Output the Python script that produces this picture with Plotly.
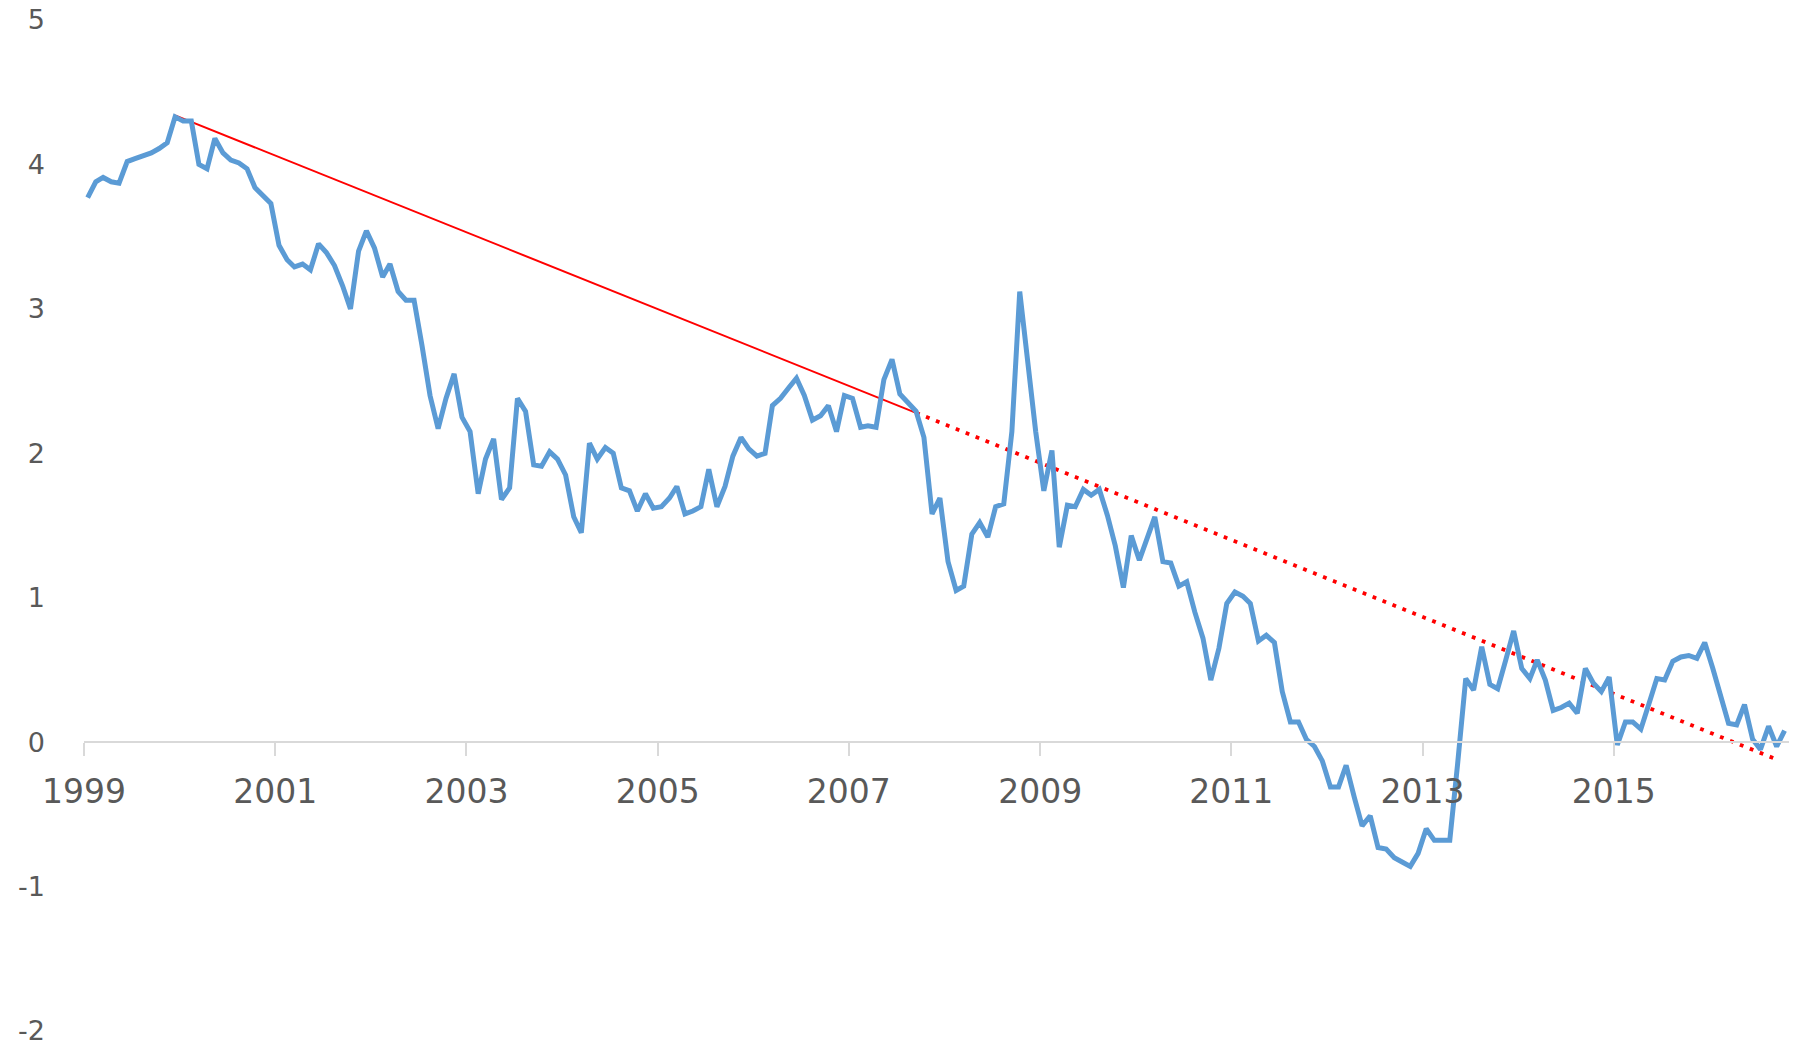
import pandas as pd
import plotly.graph_objects as go

# Monthly series, Jan 1999 .. Oct 2016
start_month = "1999-01-01"
values = [
    3.77, 3.88, 3.91, 3.88, 3.87, 4.02, 4.04, 4.06, 4.08, 4.11, 4.15, 4.33,   # 1999
    4.30, 4.30, 4.00, 3.97, 4.18, 4.08, 4.03, 4.01, 3.97, 3.84, 3.79, 3.73,   # 2000
    3.44, 3.34, 3.29, 3.31, 3.27, 3.45, 3.39, 3.30, 3.16, 3.00, 3.40, 3.54,   # 2001
    3.42, 3.22, 3.31, 3.12, 3.06, 3.06, 2.75, 2.40, 2.17, 2.38, 2.55, 2.25,   # 2002
    2.15, 1.72, 1.96, 2.10, 1.68, 1.76, 2.38, 2.29, 1.92, 1.91, 2.01, 1.96,   # 2003
    1.85, 1.56, 1.45, 2.07, 1.96, 2.04, 2.00, 1.76, 1.74, 1.60, 1.72, 1.62,   # 2004
    1.63, 1.69, 1.77, 1.58, 1.60, 1.63, 1.89, 1.63, 1.77, 1.98, 2.11, 2.03,   # 2005
    1.98, 2.00, 2.33, 2.38, 2.45, 2.52, 2.40, 2.23, 2.26, 2.33, 2.15, 2.40,   # 2006
    2.38, 2.18, 2.19, 2.18, 2.51, 2.65, 2.41, 2.35, 2.29, 2.11, 1.58, 1.69,   # 2007
    1.25, 1.05, 1.08, 1.44, 1.52, 1.42, 1.63, 1.65, 2.15, 3.12, 2.60, 2.15,   # 2008
    1.74, 2.02, 1.35, 1.64, 1.63, 1.75, 1.71, 1.75, 1.57, 1.36, 1.07, 1.43,   # 2009
    1.26, 1.43, 1.56, 1.25, 1.24, 1.08, 1.11, 0.90, 0.72, 0.43, 0.65, 0.96,   # 2010
    1.04, 1.01, 0.96, 0.70, 0.74, 0.69, 0.35, 0.14, 0.14, 0.02, -0.03, -0.13, # 2011
    -0.31, -0.31, -0.16, -0.38, -0.58, -0.51, -0.73, -0.74, -0.80, -0.83, -0.86, -0.77,  # 2012
    -0.60, -0.68, -0.68, -0.68, -0.15, 0.44, 0.36, 0.66, 0.40, 0.37, 0.57, 0.77,  # 2013
    0.51, 0.44, 0.57, 0.43, 0.22, 0.24, 0.27, 0.20, 0.51, 0.41, 0.35, 0.45,   # 2014
    -0.02, 0.14, 0.14, 0.09, 0.26, 0.44, 0.43, 0.56, 0.59, 0.60, 0.58, 0.69,  # 2015
    0.51, 0.30, 0.13, 0.12, 0.26, 0.02, -0.05, 0.11, -0.03, 0.08,             # 2016
]

# Trend line: solid part and dotted extension
trend_solid_months = ["1999-12-15", "2007-09-15"]
trend_solid_values = [4.34, 2.28]
trend_dotted_months = ["2007-09-15", "2016-09-15"]
trend_dotted_values = [2.28, -0.12]

x_tick_years = ["1999", "2001", "2003", "2005", "2007", "2009", "2011", "2013", "2015"]
y_tick_values = [-2, -1, 0, 1, 2, 3, 4, 5]
y_tick_labels = ["-2", "-1", "0", "1", "2", "3", "4", "5"]

dates = pd.date_range(start_month, periods=len(values), freq="MS") + pd.Timedelta(days=14)

FONT = "DejaVu Sans"
TXT = "#595959"

fig = go.Figure()
fig.add_trace(go.Scatter(x=trend_solid_months, y=trend_solid_values, mode="lines",
                         line=dict(color="#FF0000", width=2), hoverinfo="skip"))
fig.add_trace(go.Scatter(x=trend_dotted_months, y=trend_dotted_values, mode="lines",
                         line=dict(color="#FF0000", width=3.8, dash="3.8px,6.9px"), hoverinfo="skip"))
fig.add_trace(go.Scatter(x=dates, y=values, mode="lines",
                         line=dict(color="#5B9BD5", width=5)))

fig.update_layout(
    width=1799, height=1048,
    margin=dict(l=84, r=10, t=20, b=17, autoexpand=False),
    paper_bgcolor="white", plot_bgcolor="white",
    showlegend=False,
    font=dict(family=FONT, color=TXT, size=31),
    xaxis=dict(
        type="date",
        range=["1999-01-01", "2016-11-01"],
        tickvals=[f"{y}-01-01" for y in x_tick_years],
        ticktext=x_tick_years,
        showgrid=False, zeroline=False,
        showline=True, linecolor="#D9D9D9", linewidth=1.5,
        ticks="outside", ticklen=13, tickwidth=1.5, tickcolor="#D9D9D9",
        anchor="free", position=2 / 7,
        tickfont=dict(family=FONT, size=33, color=TXT),
        ticklabelstandoff=8,
    ),
    yaxis=dict(
        range=[-2, 5],
        tickvals=y_tick_values, ticktext=y_tick_labels,
        showgrid=False, zeroline=False, showline=False, ticks="",
        tickfont=dict(family=FONT, size=27, color=TXT),
        ticklabelstandoff=38,
        ticklabeloverflow="allow",
    ),
)

fig.write_html(
    "out.html",
    config={"displayModeBar": False},
    post_script="document.body.style.margin='0px';document.body.style.overflow='hidden';",
)
